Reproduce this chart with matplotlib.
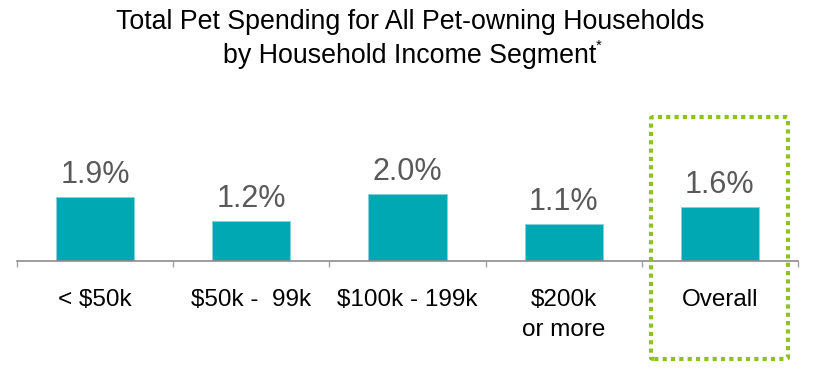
import matplotlib
matplotlib.use('Agg')
import matplotlib.pyplot as plt
from matplotlib.patches import FancyBboxPatch

plt.rcParams['font.family'] = ['Liberation Sans', 'DejaVu Sans']

categories = ['< $50k', '$50k -  99k', '$100k - 199k', '$200k\nor more', 'Overall']
values = [1.9, 1.2, 2.0, 1.1, 1.6]
value_labels = ['1.9%', '1.2%', '2.0%', '1.1%', '1.6%']

W, H = 820, 379
fig = plt.figure(figsize=(W/100, H/100), dpi=100)

# axes placed so the baseline sits where the reference has it
ax = fig.add_axes([17/W, 1 - 261/H, 781/W, 3.0*33.7/H])
x = range(len(values))
ax.bar(x, values, width=0.5, color='#00A8B4', edgecolor='#7fd3da', lw=0.6)
ax.set_xlim(-0.5, 4.5)
ax.set_ylim(0, 3.0)

for s in ['top', 'right', 'left']:
    ax.spines[s].set_visible(False)
ax.spines['bottom'].set_color('#8c8c8c')
ax.spines['bottom'].set_linewidth(1.2)
ax.set_yticks([])
ax.set_xticks([i - 0.5 for i in range(len(values) + 1)])
ax.set_xticklabels([])
ax.tick_params(axis='x', direction='out', length=4, color='#a0a0a0', width=1)

for i, (v, lab) in enumerate(zip(values, value_labels)):
    ax.annotate(lab, (i, v), xytext=(0, 5), textcoords='offset points',
                ha='center', va='bottom', fontsize=22, color='#595959')

for i, c in enumerate(categories):
    ax.annotate(c, (i, 0), xytext=(0, -20.5), textcoords='offset points',
                ha='center', va='top', fontsize=17.5, color='black',
                linespacing=1.45)

fig.text(0.5, 1 - 22/H, 'Total Pet Spending for All Pet-owning Households',
         ha='center', va='center', fontsize=19.3)
fig.text(0.5, 1 - 56/H, 'by Household Income Segment',
         ha='center', va='center', fontsize=19.3)
fig.text(596/W, 1 - 46/H, '*', ha='left', va='center', fontsize=11)

# dotted highlight around "Overall"
box = FancyBboxPatch((651/W, 1 - 359/H), 137/W, 242/H,
                     boxstyle='round,pad=0,rounding_size=0.004',
                     transform=fig.transFigure, fill=False,
                     edgecolor='#8DC21F', lw=3, linestyle=(0, (1, 1)))
fig.add_artist(box)

fig.savefig('out.png', dpi=100)
